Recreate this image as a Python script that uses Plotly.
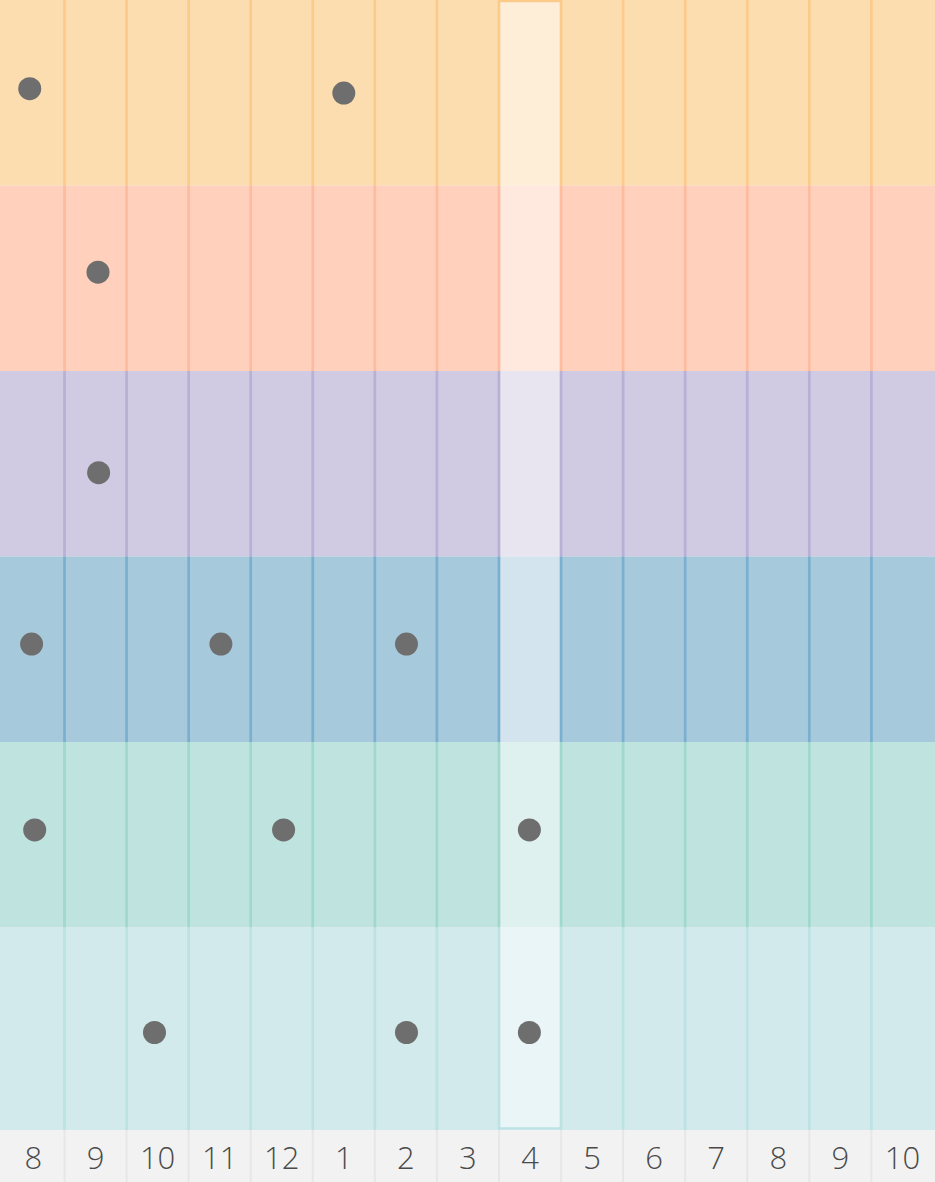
import plotly.graph_objects as go

# ---- data ----
hours = list(range(8, 23))
hour_labels = ["8", "9", "10", "11", "12", "1", "2", "3", "4", "5", "6", "7", "8", "9", "10"]

band_top = [0, 1, 2, 3, 4, 5]
band_bottom = [1, 2, 3, 4, 5, 6.0916]
band_fill = ["#FCDDB0", "#FFD0BC", "#D0CAE3", "#A6C9DC", "#BFE3DF", "#D3EAEC"]
band_line = ["#FCCB8A", "#FDBB9F", "#B8B0D5", "#7AAFCF", "#A0D8CE", "#BCE2E3"]

highlight_hour = 16

dot_hour = [7.94, 13.0, 9.04, 9.05, 7.97, 11.02, 14.01, 8.02, 12.03, 15.99, 9.95, 14.01, 15.99]
dot_row = [0.478, 0.502, 1.467, 2.548, 3.472, 3.472, 3.472, 4.474, 4.474, 4.474, 5.566, 5.566, 5.566]

x_range = [7.461, 22.525]
y_range = [6.0916, 0]

# ---- figure ----
fig = go.Figure()
fig.add_trace(go.Scatter(
    x=dot_hour, y=dot_row, mode="markers",
    marker=dict(size=23, color="#6E6E6E", line=dict(width=0)),
    hoverinfo="skip", showlegend=False,
))

shapes = []
for t, b, c in zip(band_top, band_bottom, band_fill):
    shapes.append(dict(type="rect", xref="paper", yref="y", x0=0, x1=1, y0=t, y1=b,
                       fillcolor=c, line=dict(width=0), layer="below"))

# highlighted column
shapes.append(dict(type="rect", xref="x", yref="y", x0=highlight_hour - 0.5, x1=highlight_hour + 0.5,
                   y0=band_top[0], y1=band_bottom[-1], fillcolor="white", opacity=0.5,
                   line=dict(width=0), layer="below"))

boundaries = [h + 0.5 for h in hours[:-1]]
for xb in boundaries:
    for t, b, c in zip(band_top, band_bottom, band_line):
        shapes.append(dict(type="line", xref="x", yref="y", x0=xb, x1=xb, y0=t, y1=b,
                           line=dict(color=c, width=2.7), layer="below"))
    # faint lines in the label strip
    shapes.append(dict(type="line", xref="x", yref="paper", x0=xb, x1=xb, y0=0, y1=-0.05,
                       line=dict(color="#E7E7E7", width=2), layer="below"))

# highlight top / bottom borders
shapes.append(dict(type="line", xref="x", yref="y", x0=highlight_hour - 0.5, x1=highlight_hour + 0.5,
                   y0=0.006, y1=0.006, line=dict(color=band_line[0], width=2.5), layer="below"))
shapes.append(dict(type="line", xref="x", yref="y", x0=highlight_hour - 0.5, x1=highlight_hour + 0.5,
                   y0=band_bottom[-1] - 0.008, y1=band_bottom[-1] - 0.008,
                   line=dict(color=band_line[-1], width=2.5), layer="below"))

fig.update_layout(
    width=935, height=1182,
    margin=dict(l=0, r=0, t=0, b=52, pad=0),
    paper_bgcolor="#F2F2F2", plot_bgcolor="#F2F2F2",
    shapes=shapes,
    showlegend=False,
    xaxis=dict(range=x_range, tickmode="array", tickvals=hours, ticktext=hour_labels,
               showgrid=False, zeroline=False, showline=False, ticks="",
               ticklabelstandoff=7,
               tickfont=dict(family="Open Sans", size=31, color="#4A4A4A", weight=300),
               fixedrange=True),
    yaxis=dict(range=y_range, showgrid=False, zeroline=False, showline=False,
               showticklabels=False, ticks="", fixedrange=True),
)

fig.write_html("out.html")
